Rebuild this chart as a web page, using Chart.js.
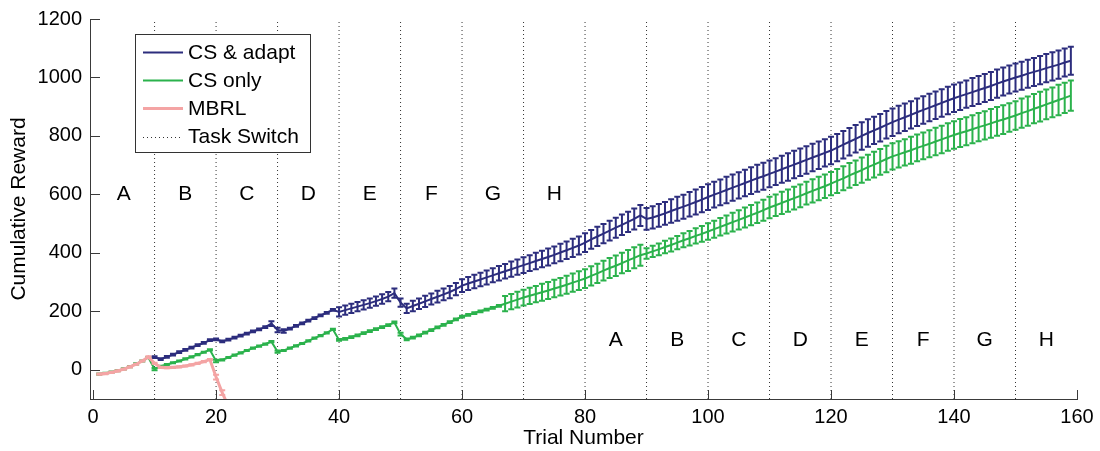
<!DOCTYPE html>
<html>
<head>
<meta charset="utf-8">
<script src="https://cdn.jsdelivr.net/npm/chart.js@4.4.0/dist/chart.umd.min.js"></script>
<style>
  body { margin: 0; background: #fff; }
</style>
</head>
<body>
<canvas id="myChart" width="1100" height="451"></canvas>
<script>
// axis ticks
const xTicks = [0, 20, 40, 60, 80, 100, 120, 140, 160];
const yTicks = [0, 200, 400, 600, 800, 1000, 1200];

// task switches + task letters
const switchTrials = [10, 20, 30, 40, 50, 60, 70, 80, 90, 100, 110, 120, 130, 140, 150];
const taskNames = ["A", "B", "C", "D", "E", "F", "G", "H"];
const firstPassX = [5, 15, 25, 35, 45, 55, 65, 75];
const firstPassY = 600;
const secondPassX = [85, 95, 105, 115, 125, 135, 145, 155];
const secondPassY = 100;

// CS & adapt, trials 10..159
const adaptStart = 10;
const adaptMean = [
  43, 36, 44, 52, 60, 68, 76, 84, 92, 101,
  104, 97, 103, 110, 117, 124, 131, 138, 146, 158,
  136, 133, 141, 150, 159, 168, 177, 186, 195, 205,
  198, 204, 210, 216, 222, 228, 235, 242, 250, 262,
  230, 210, 218, 226, 234, 242, 250, 258, 266, 276,
  288, 295, 302, 309, 316, 323, 330, 337, 344, 351,
  358, 365, 372, 379, 386, 393, 401, 409, 417, 425,
  435, 446, 456, 466, 476, 486, 496, 506, 516, 528,
  516, 521, 528, 535, 543, 551, 558, 566, 574, 582,
  591, 599, 607, 615, 623, 631, 639, 647, 655, 662,
  670, 678, 686, 694, 702, 710, 718, 726, 734, 742,
  750, 760, 770, 780, 790, 800, 810, 819, 828, 838,
  847, 856, 864, 872, 881, 889, 897, 905, 913, 921,
  929, 936, 943, 950, 957, 964, 971, 979, 986, 993,
  1000, 1006, 1013, 1019, 1025, 1032, 1038, 1044, 1051, 1057
];
const adaptErr = [
  3, 3, 3, 3, 3, 3, 3, 3, 3, 3,
  3, 3, 3, 3, 3, 3, 3, 3, 3, 8,
  8, 6, 3, 3, 3, 3, 3, 3, 3, 3,
  16, 16, 16, 16, 16, 16, 16, 16, 16, 16,
  14, 16, 18, 18, 19, 19, 20, 20, 21, 21,
  22, 22, 23, 23, 24, 24, 25, 25, 26, 26,
  27, 27, 28, 28, 29, 29, 30, 30, 31, 31,
  32, 32, 33, 33, 34, 34, 35, 35, 36, 36,
  37, 38, 39, 39, 40, 41, 41, 42, 43, 43,
  44, 44, 44, 45, 45, 45, 45, 46, 46, 46,
  46, 46, 46, 47, 47, 47, 47, 47, 47, 47,
  47, 47, 47, 47, 47, 47, 47, 47, 47, 47,
  47, 47, 47, 47, 47, 47, 47, 47, 47, 47,
  47, 47, 47, 48, 48, 48, 48, 48, 48, 48,
  48, 48, 48, 48, 48, 48, 48, 48, 48, 48
];

// CS only, trials 1..159
const csStart = 1;
const csMean = [
  -15, -12, -8, -3, 3, 11, 20, 30, 42,
  2, 12, 18, 24, 30, 37, 44, 52, 60, 68,
  30, 34, 42, 50, 58, 66, 74, 81, 88, 96,
  62, 66, 74, 82, 90, 99, 108, 117, 126, 138,
  102, 106, 112, 118, 125, 132, 139, 146, 153, 162,
  122, 104, 110, 118, 127, 136, 145, 154, 163, 172,
  182, 188, 194, 200, 206, 212, 219, 226, 233, 240,
  247, 253, 259, 265, 271, 278, 284, 291, 298, 305,
  312, 321, 330, 339, 348, 356, 365, 374, 383, 392,
  398, 405, 412, 420, 427, 435, 443, 450, 458, 465,
  473, 481, 489, 497, 505, 513, 521, 529, 537, 546,
  555, 563, 571, 579, 587, 595, 604, 612, 620, 628,
  637, 646, 655, 665, 674, 683, 693, 702, 711, 721,
  730, 737, 744, 751, 759, 766, 773, 781, 788, 796,
  803, 810, 816, 823, 830, 836, 843, 850, 856, 863,
  870, 878, 885, 893, 900, 908, 915, 923, 930, 938
];
const csErr = [
  2, 2, 2, 2, 2, 2, 2, 2, 2,
  4, 2, 2, 2, 2, 2, 2, 2, 2, 2,
  4, 2, 2, 2, 2, 2, 2, 2, 2, 2,
  4, 2, 2, 2, 2, 2, 2, 2, 2, 2,
  3, 3, 3, 3, 3, 3, 3, 3, 3, 3,
  5, 3, 3, 3, 3, 3, 3, 3, 3, 3,
  3, 3, 3, 3, 3, 3, 3, 26, 26, 27,
  27, 28, 28, 29, 29, 30, 30, 31, 31, 32,
  32, 33, 33, 34, 34, 35, 35, 36, 36, 36,
  18, 19, 20, 21, 22, 23, 24, 25, 26, 27,
  28, 29, 30, 31, 32, 33, 34, 35, 35, 36,
  37, 37, 38, 38, 39, 39, 39, 40, 40, 40,
  40, 41, 41, 42, 42, 43, 43, 44, 44, 45,
  45, 45, 45, 46, 46, 46, 46, 47, 47, 47,
  47, 48, 48, 48, 48, 48, 49, 49, 49, 49,
  49, 50, 50, 50, 51, 51, 51, 52, 52, 52
];

// MBRL, trials 1..22 (runs off the bottom)
const mbrlStart = 1;
const mbrlMean = [-15, -13, -9, -4, 2, 10, 19, 30, 44, 22, 8, 7, 8, 10, 13, 17, 22, 28, 35, -25, -78, -125];
const mbrlErr = [2, 2, 2, 2, 2, 2, 2, 2, 2, 2, 2, 2, 2, 2, 2, 2, 2, 2, 2, 8, 8, 10];

const FONT = "'Liberation Sans', Arial, sans-serif";
const axisColor = "#3a3a3a";

const toPoints = (start, means, errs) =>
  means.map((v, i) => ({ x: start + i, y: v, e: errs[i] }));

// one dataset for all switch lines, broken by nulls
const switchPoints = [];
switchTrials.forEach((t) => {
  switchPoints.push({ x: t, y: -100 }, { x: t, y: 1200 }, { x: t, y: null });
});

// error bars drawn right after each series
const errorBars = {
  id: "errorBars",
  afterDatasetDraw(chart, args) {
    const ds = chart.data.datasets[args.index];
    if (!ds.errorBars) return;
    const { ctx, chartArea: a, scales: { x, y } } = chart;
    ctx.save();
    ctx.beginPath();
    ctx.rect(a.left, a.top, a.right - a.left, a.bottom - a.top);
    ctx.clip();
    ctx.strokeStyle = ds.borderColor;
    ctx.lineWidth = ds.barWidth || 2;
    ds.data.forEach((p) => {
      const px = x.getPixelForValue(p.x);
      const top = y.getPixelForValue(p.y + p.e);
      const bot = y.getPixelForValue(p.y - p.e);
      ctx.beginPath();
      ctx.moveTo(px, top);
      ctx.lineTo(px, bot);
      ctx.moveTo(px - 3, top);
      ctx.lineTo(px + 3, top);
      ctx.moveTo(px - 3, bot);
      ctx.lineTo(px + 3, bot);
      ctx.stroke();
    });
    ctx.restore();
  },
};

// matlab style ticks pointing inward
const innerTicks = {
  id: "innerTicks",
  beforeDatasetsDraw(chart) {
    const { ctx, chartArea: a, scales: { x, y } } = chart;
    ctx.save();
    ctx.strokeStyle = axisColor;
    ctx.lineWidth = 1;
    ctx.beginPath();
    xTicks.forEach((v) => {
      const px = Math.round(x.getPixelForValue(v)) + 0.5;
      ctx.moveTo(px, a.bottom);
      ctx.lineTo(px, a.bottom - 9);
    });
    yTicks.forEach((v) => {
      const py = Math.round(y.getPixelForValue(v)) + 0.5;
      ctx.moveTo(a.left, py);
      ctx.lineTo(a.left + 10, py);
    });
    ctx.stroke();
    ctx.restore();
  },
};

// task letters
const taskLetters = {
  id: "taskLetters",
  afterDatasetsDraw(chart) {
    const { ctx, scales: { x, y } } = chart;
    ctx.save();
    ctx.fillStyle = "#000";
    ctx.font = "21px " + FONT;
    ctx.textAlign = "center";
    ctx.textBaseline = "middle";
    taskNames.forEach((n, i) => {
      ctx.fillText(n, x.getPixelForValue(firstPassX[i]), y.getPixelForValue(firstPassY));
      ctx.fillText(n, x.getPixelForValue(secondPassX[i]), y.getPixelForValue(secondPassY));
    });
    ctx.restore();
  },
};

// boxed legend inside the axes
const boxLegend = {
  id: "boxLegend",
  afterDraw(chart) {
    const { ctx } = chart;
    const left = 135.5, top = 34.5, w = 175, h = 118;
    ctx.save();
    ctx.fillStyle = "#fff";
    ctx.fillRect(left, top, w, h);
    ctx.strokeStyle = "#333";
    ctx.lineWidth = 1;
    ctx.strokeRect(left, top, w, h);
    ctx.font = "21px " + FONT;
    ctx.textBaseline = "middle";
    ctx.textAlign = "left";
    chart.data.datasets.forEach((ds, i) => {
      const cy = 52 + i * 28.2;
      ctx.strokeStyle = ds.borderColor;
      ctx.lineWidth = ds.borderDash ? 1 : ds.borderWidth;
      ctx.setLineDash(ds.borderDash || []);
      ctx.beginPath();
      ctx.moveTo(143, Math.round(cy) + 0.5);
      ctx.lineTo(183, Math.round(cy) + 0.5);
      ctx.stroke();
      ctx.setLineDash([]);
      ctx.fillStyle = "#000";
      ctx.fillText(ds.label, 188, cy + 1);
    });
    ctx.restore();
  },
};

const ctx = document.getElementById("myChart");

const chart = new Chart(ctx, {
  type: "line",
  data: {
    datasets: [
      {
        label: "CS & adapt",
        data: toPoints(adaptStart, adaptMean, adaptErr),
        borderColor: "#2c2d7d",
        borderWidth: 2,
        errorBars: true,
        order: 2,
      },
      {
        label: "CS only",
        data: toPoints(csStart, csMean, csErr),
        borderColor: "#2bb24c",
        borderWidth: 2,
        errorBars: true,
        order: 3,
      },
      {
        label: "MBRL",
        data: toPoints(mbrlStart, mbrlMean, mbrlErr),
        borderColor: "#f4a4a4",
        borderWidth: 3,
        barWidth: 2,
        errorBars: true,
        order: 1,
      },
      {
        label: "Task Switch",
        data: switchPoints,
        borderColor: "#333",
        borderWidth: 1,
        borderDash: [1, 3],
        spanGaps: false,
        order: 4,
      },
    ],
  },
  options: {
    responsive: false,
    animation: false,
    events: [],
    elements: {
      point: { radius: 0 },
      line: { tension: 0 },
    },
    layout: { padding: 0 },
    plugins: {
      legend: { display: false },
      tooltip: { enabled: false },
    },
    scales: {
      x: {
        type: "linear",
        min: -0.5,
        max: 160,
        afterBuildTicks: (s) => {
          s.ticks = xTicks.map((v) => ({ value: v }));
        },
        afterFit: (s) => {
          s.height = 52;
          s.paddingLeft = 0;
          s.paddingRight = 23;
        },
        grid: { display: false, drawTicks: false },
        border: { display: true, color: axisColor, width: 1 },
        ticks: {
          color: "#000",
          font: { size: 20, family: FONT },
          padding: 6,
          maxRotation: 0,
          autoSkip: false,
          callback: (v) => String(v),
        },
        title: {
          display: true,
          text: "Trial Number",
          color: "#000",
          font: { size: 21, family: FONT },
          padding: { top: 0, bottom: 0 },
        },
      },
      y: {
        type: "linear",
        min: -100,
        max: 1200,
        afterBuildTicks: (s) => {
          s.ticks = yTicks.map((v) => ({ value: v }));
        },
        afterFit: (s) => {
          s.width = 90;
          s.paddingTop = 19;
          s.paddingBottom = 0;
        },
        grid: { display: false, drawTicks: false },
        border: { display: true, color: axisColor, width: 1 },
        ticks: {
          color: "#000",
          font: { size: 20, family: FONT },
          padding: 8,
          autoSkip: false,
          callback: (v) => String(v),
        },
        title: {
          display: true,
          text: "Cumulative Reward",
          color: "#000",
          font: { size: 21, family: FONT },
          padding: { top: 7, bottom: 0 },
        },
      },
    },
  },
  plugins: [innerTicks, errorBars, taskLetters, boxLegend],
});
</script>
</body>
</html>
